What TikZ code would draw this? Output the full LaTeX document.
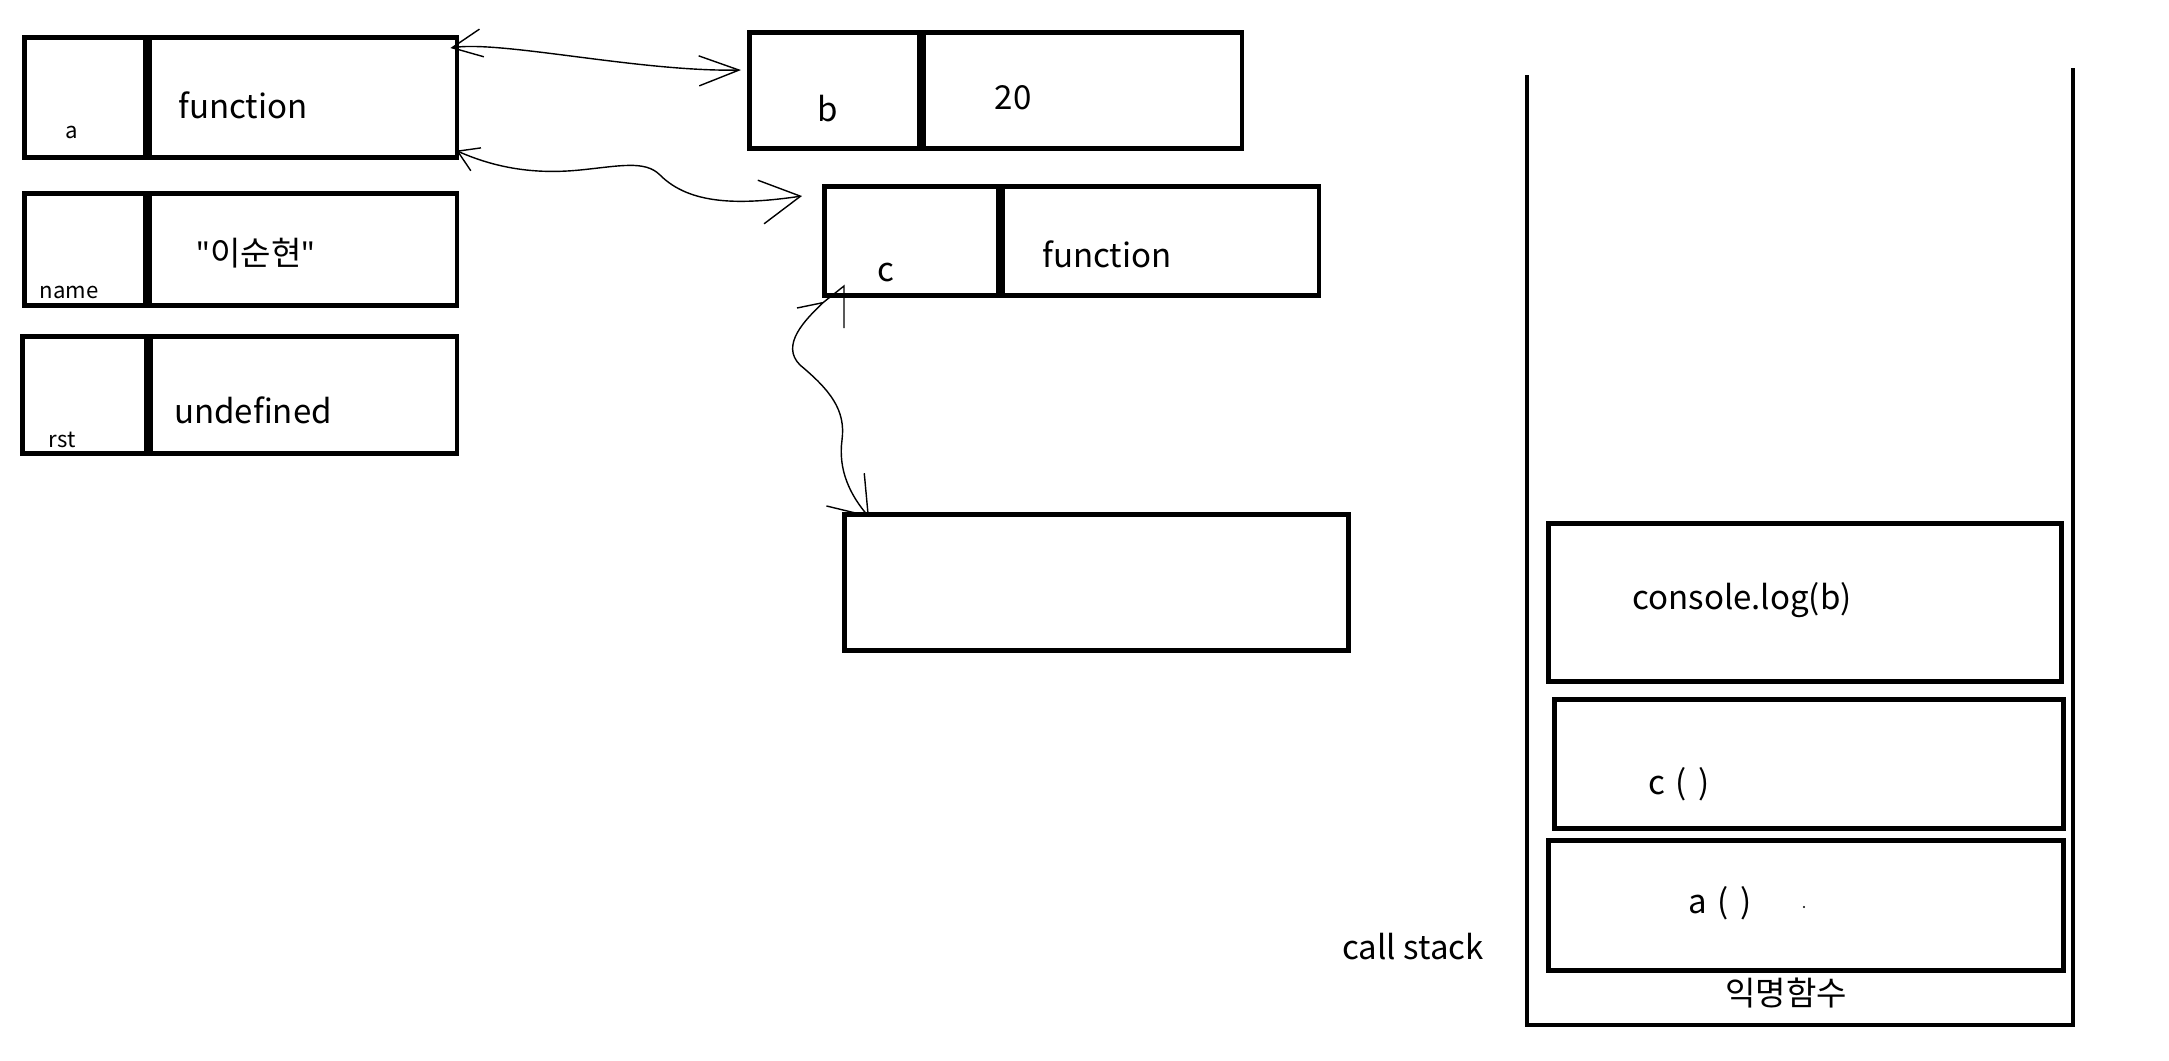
\documentclass[tikz,border=0pt]{standalone}
\usepackage{fontspec}
\setmainfont{Noto Sans CJK KR}[Ligatures=ResetAll]
\newfontfamily\quotefont{Noto Sans}[Ligatures=ResetAll]
\usetikzlibrary{arrows.meta}
\begin{document}
\begin{tikzpicture}[x=0.01cm,y=-0.01cm,
  box/.style={draw, line width=1.3pt, inner sep=0pt, anchor=north west},
  big/.style={font=\fontsize{9.4}{11}\selectfont, inner sep=0pt, anchor=base},
  small/.style={font=\fontsize{6.3}{7.5}\selectfont, inner sep=0pt, anchor=base},
  wall/.style={line width=1.4pt},
  pen/.style={line width=0.4pt}]
\useasboundingbox (0,0) rectangle (2169,1060);

% variable cells (left)
\node[box, minimum width=1.21cm, minimum height=1.20cm] (akey) at (22,35) {};
\node[box, minimum width=3.07cm, minimum height=1.20cm] (aval) at (akey.north east) {};
\node[small] (alab) at (72,138) {a};
\node[big] (atxt) at (243,118) {function};

\node[box, minimum width=1.21cm, minimum height=1.12cm] (nkey) at (22,191) {};
\node[box, minimum width=3.07cm, minimum height=1.12cm] (nval) at (nkey.north east) {};
\node[small] (nlab) at (69,298) {name};
\node[big] (ntxt) at (256,265) {{\quotefont\char"22}이순현{\quotefont\char"22}};

\node[box, minimum width=1.24cm, minimum height=1.17cm] (rkey) at (20,334) {};
\node[box, minimum width=3.06cm, minimum height=1.17cm] (rval) at (rkey.north east) {};
\node[small] (rlab) at (62,447) {rst};
\node[big] (rtxt) at (253,423) {undefined};

% b and c
\node[box, minimum width=1.70cm, minimum height=1.16cm] (bkey) at (747,30) {};
\node[box, minimum width=3.18cm, minimum height=1.16cm] (bval) at (bkey.north east) {};
\node[big] (blab) at (828,121) {b};
\node[big] (btxt) at (1013,109) {20};

\node[box, minimum width=1.74cm, minimum height=1.09cm] (ckey) at (822,184) {};
\node[box, minimum width=3.16cm, minimum height=1.09cm] (cval) at (ckey.north east) {};
\node[big] (clab) at (886,281) {c};
\node[big] (ctxt) at (1107,267) {function};

\node[box, minimum width=5.04cm, minimum height=1.36cm] (fr) at (842,512) {};

% call stack
\draw[wall] (1527,75) -- (1527,1025) -- (2073,1025) -- (2073,68);
\node[box, minimum width=5.13cm, minimum height=1.58cm] (logf) at (1546,521) {};
\node[big] (logt) at (1742,609) {console.log(b)};
\node[box, minimum width=5.09cm, minimum height=1.29cm] (cfr) at (1552,697) {};
\node[big] (cfrt) at (1679,794) {c\hspace{0.3em}(\hspace{0.35em})};
\node[box, minimum width=5.15cm, minimum height=1.30cm] (afr) at (1546,838) {};
\node[big] (afrt) at (1720,913) {a\hspace{0.3em}(\hspace{0.35em})};
\fill (1804,907) circle (1.2);
\node[big] (anon) at (1786,1005) {익명함수};
\node[big] (cs) at (1413,959) {call stack};

% hand-drawn connectors
\draw[pen, {Straight Barb[length=3mm,width=2.8mm]}-{Straight Barb[length=4mm,width=3mm]}]
  ([xshift=-0.09cm,yshift=-0.13cm]aval.north east) .. controls (500,40) and (640,72) ..
  ([xshift=-0.06cm,yshift=-0.40cm]bkey.north west);

\draw[pen, {Straight Barb[length=2mm,width=2.5mm]}-{Straight Barb[length=4mm,width=4.4mm]}]
  ([xshift=-0.03cm,yshift=0.09cm]aval.south east) .. controls (500,170) and (540,174) .. (580,170)
  .. controls (620,166) and (645,160) .. (660,175)
  .. controls (690,205) and (740,205) .. ([xshift=-0.20cm,yshift=-0.12cm]ckey.north west);

\coordinate (ctip) at ([xshift=0.01cm,yshift=-0.05cm]ckey.south west);
\draw[pen, -{Straight Barb[length=3.5mm,width=5mm]}]
  (ctip) .. controls (805,320) and (780,345) .. (800,365)
  .. controls (830,390) and (846,410) .. (842,440)
  .. controls (838,470) and (850,495) .. ([xshift=0.27cm,yshift=-0.05cm]fr.north west);
\draw[pen] (797,308) .. controls (810,306) .. (ctip) -- (844,286) -- (844,328);
\end{tikzpicture}
\end{document}
